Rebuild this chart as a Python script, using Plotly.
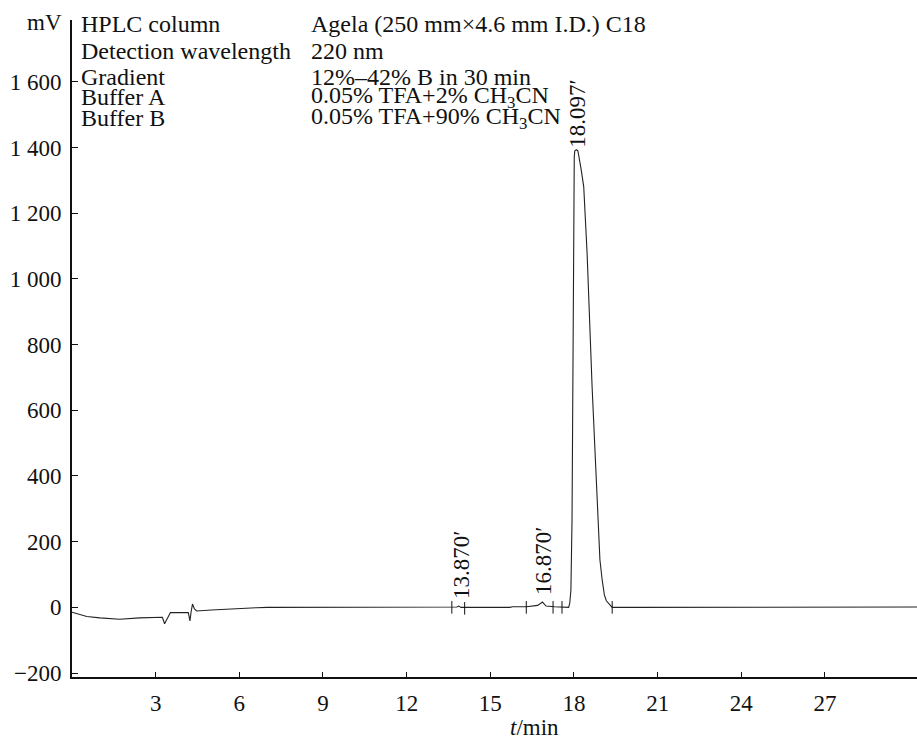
import plotly.graph_objects as go

# Chromatogram trace (time in min, signal in mV)
time_min = [0.00, 0.53, 1.00, 1.71, 2.43, 3.15, 3.24, 3.32, 3.36, 3.53, 4.17, 4.23, 4.27,
            4.32, 4.39, 4.47, 5.00, 5.54, 6.00, 6.62, 7.00, 10.00, 13.50, 13.80, 13.87,
            13.95, 15.70, 15.80, 16.30, 16.70, 16.87, 17.00, 17.30, 17.60,
            17.81, 17.85, 17.89, 17.93, 17.95, 17.97, 17.99, 18.01, 18.03, 18.09, 18.14,
            18.19, 18.26, 18.35, 18.41, 18.47, 18.65, 18.75, 18.85, 18.93, 19.01, 19.09,
            19.16, 19.25, 19.37, 20.00, 21.20, 21.30, 21.40, 22.80, 22.90, 23.00, 27.50,
            27.60, 30.30]
signal_mv = [-15, -28, -32, -36, -32, -30, -30, -50, -44, -16, -16, -41, -14,
             10, -5, -11, -8, -5, -3, -1, 0, 0, 0, 1, 4,
             0, 0, 2, 2, 6, 16, 4, 2, 2,
             0, 14, 53, 266, 632, 1079, 1332, 1372, 1390, 1393, 1390,
             1368, 1332, 1280, 1195, 1079, 671, 464, 266, 145, 84, 38,
             20, 11, 0, 0, 0, 2, 0, 0, 2, 0, 0,
             1, 1]

# Integration marks on the baseline
mark_times = [13.62, 14.08, 16.29, 17.25, 17.57, 19.37]
mark_values = [0, -3, 0, 0, 0, 0]

# Peak labels
peak_times = [13.97, 16.91, 18.097]
peak_label_y = [18, 30, 1392]
peak_labels = ["13.870\u2032", "16.870\u2032", "18.097\u2032"]

# Axis ticks
y_tickvals = [-200, 0, 200, 400, 600, 800, 1000, 1200, 1400, 1600]
y_ticktext = ["\u2212200", "0", "200", "400", "600", "800", "1 000", "1 200", "1 400", "1 600"]
x_tickvals = [3, 6, 9, 12, 15, 18, 21, 24, 27]
x_ticktext = ["3", "6", "9", "12", "15", "18", "21", "24", "27"]

# Method text block
info_keys = ["HPLC column", "Detection wavelength", "Gradient", "Buffer A", "Buffer B"]
info_vals = ["Agela (250 mm\u00d74.6 mm I.D.) C18", "220 nm", "12%\u201342% B in 30 min",
             "0.05% TFA+2% CH<sub>3</sub>CN", "0.05% TFA+90% CH<sub>3</sub>CN"]

FONT = "Liberation Serif"
INK = "#111111"
W, H = 917, 741
ML, MR, MT, MB = 72, 0, 20, 64

fig = go.Figure()
fig.add_trace(go.Scatter(x=time_min, y=signal_mv, mode="lines",
                         line=dict(color="#222222", width=1.1), showlegend=False,
                         hoverinfo="skip"))
fig.add_trace(go.Scatter(x=mark_times, y=mark_values, mode="markers",
                         marker=dict(symbol="line-ns", size=9,
                                     line=dict(color=INK, width=1)),
                         showlegend=False, hoverinfo="skip"))

for t, yv, lab in zip(peak_times, peak_label_y, peak_labels):
    fig.add_annotation(x=t, y=yv, text=lab, textangle=-90, showarrow=False,
                       xanchor="center", yanchor="bottom",
                       font=dict(family=FONT, size=23, color=INK))

plot_w = W - ML - MR
plot_h = H - MT - MB
def px_to_paper_x(px):
    return (px - ML) / plot_w
def px_to_paper_y(py):
    return 1 - (py - MT) / plot_h

line_y_px = [24, 51, 77, 97, 118]
for k, v, py in zip(info_keys, info_vals, line_y_px):
    fig.add_annotation(x=px_to_paper_x(79), y=px_to_paper_y(py), xref="paper", yref="paper",
                       text=k, showarrow=False, xanchor="left", yanchor="middle",
                       font=dict(family=FONT, size=24, color=INK))
    fig.add_annotation(x=px_to_paper_x(309), y=px_to_paper_y(py), xref="paper", yref="paper",
                       text=v, showarrow=False, xanchor="left", yanchor="middle",
                       font=dict(family=FONT, size=24, color=INK))

fig.add_annotation(x=px_to_paper_x(64), y=px_to_paper_y(22), xref="paper", yref="paper",
                   text="mV", showarrow=False, xanchor="right", yanchor="middle",
                   font=dict(family=FONT, size=23, color=INK))
fig.add_annotation(x=px_to_paper_x(534), y=px_to_paper_y(727), xref="paper", yref="paper",
                   text="<i>t</i>/min", showarrow=False, xanchor="center", yanchor="middle",
                   font=dict(family=FONT, size=23, color=INK))

fig.update_xaxes(range=[0, 30.3], tickvals=x_tickvals, ticktext=x_ticktext,
                 ticks="inside", ticklen=5, tickwidth=1.2, tickcolor=INK,
                 showline=True, linecolor=INK, linewidth=2,
                 showgrid=False, zeroline=False, ticklabelstandoff=4,
                 tickfont=dict(family=FONT, size=23, color=INK))
fig.update_yaxes(range=[-212, 1788], tickvals=y_tickvals, ticktext=y_ticktext,
                 ticks="inside", ticklen=6, tickwidth=1.2, tickcolor=INK,
                 showline=True, linecolor=INK, linewidth=2,
                 showgrid=False, zeroline=False, ticklabelstandoff=4,
                 tickfont=dict(family=FONT, size=23, color=INK))

fig.update_layout(width=W, height=H, margin=dict(l=ML, r=MR, t=MT, b=MB),
                  plot_bgcolor="white", paper_bgcolor="white",
                  font=dict(family=FONT))
fig.write_html("out.html", config={"displayModeBar": False},
               post_script="document.body.style.margin='0';document.body.style.overflow='hidden';")
